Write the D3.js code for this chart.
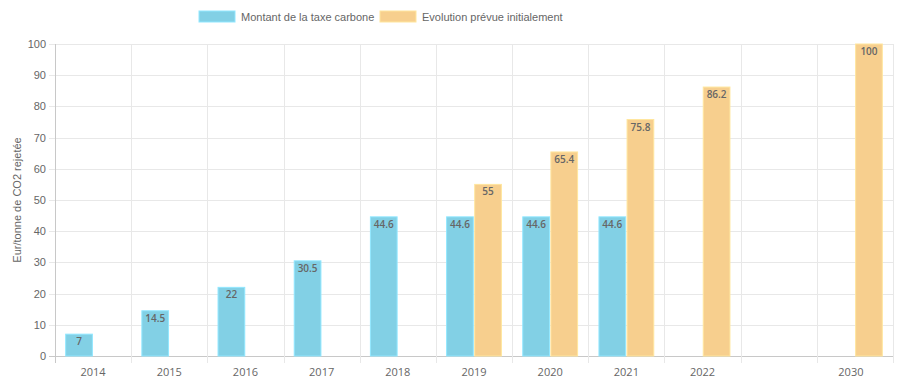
<!DOCTYPE html>
<html>
<head>
<meta charset="utf-8">
<style>
  body { margin: 0; background: #fff; }
  text { font-family: "Liberation Sans", Arial, sans-serif; fill: #666; }
  .xlab { font-family: "Open Sans", sans-serif; font-size: 11px; }
  .val { font-family: "Open Sans", sans-serif; font-size: 10px; font-weight: 600; fill: #666; }
</style>
</head>
<body>
<svg id="chart" width="900" height="386"></svg>
<script src="https://cdnjs.cloudflare.com/ajax/libs/d3/7.8.5/d3.min.js"></script>
<script>
// categories (the empty slot sits between 2022 and 2030)
var years = ["2014", "2015", "2016", "2017", "2018", "2019", "2020", "2021", "2022", "gap", "2030"];
var montant = [7, 14.5, 22, 30.5, 44.6, 44.6, 44.6, 44.6, null, null, null];
var prevue = [null, null, null, null, null, 55, 65.4, 75.8, 86.2, null, 100];
var series = ["Montant de la taxe carbone", "Evolution prévue initialement"];
var colors = ["#82d0e5", "#f7cf8e"];
var yTicks = [0, 10, 20, 30, 40, 50, 60, 70, 80, 90, 100];

var svg = d3.select("#chart");
var mLeft = 55, mRight = 893, mTop = 44, mBottom = 356;

var x = d3.scaleBand().domain(years).range([mLeft, mRight]);
var x1 = d3.scaleBand().domain([0, 1]).range([0, x.bandwidth()]).paddingInner(0.05).paddingOuter(0.38);
var y = d3.scaleLinear().domain([0, 100]).range([mBottom, mTop]);

// horizontal grid
svg.append("g").selectAll("line").data(yTicks).enter().append("line")
  .attr("x1", mLeft - 6).attr("x2", mRight)
  .attr("y1", function(d){ return Math.round(y(d)) + 0.5; })
  .attr("y2", function(d){ return Math.round(y(d)) + 0.5; })
  .attr("stroke", function(d){ return d == 0 ? "#c8c8c8" : "#e8e8e8"; });

// vertical grid at category boundaries
var bounds = years.map(function(d){ return x(d); }).concat([mRight]);
svg.append("g").selectAll("line").data(bounds).enter().append("line")
  .attr("x1", function(d){ return Math.round(d) + 0.5; })
  .attr("x2", function(d){ return Math.round(d) + 0.5; })
  .attr("y1", mTop).attr("y2", mBottom + 7)
  .attr("stroke", function(d, i){ return i == 0 ? "#c8c8c8" : "#e8e8e8"; });

// y labels
svg.append("g").selectAll("text").data(yTicks).enter().append("text")
  .attr("x", mLeft - 9).attr("y", function(d){ return y(d) + 4; })
  .attr("text-anchor", "end").style("font-size", "11px")
  .text(function(d){ return d; });

// y title
svg.append("text")
  .attr("transform", "translate(21," + ((mTop + mBottom) / 2) + ") rotate(-90)")
  .attr("text-anchor", "middle").style("font-size", "11px")
  .text("Eur/tonne de CO2 rejetée");

// x labels
svg.append("g").selectAll("text").data(years).enter().append("text")
  .attr("class", "xlab")
  .attr("x", function(d){ return x(d) + x.bandwidth() / 2 - (d == "2030" ? 4 : 0); })
  .attr("y", 376).attr("text-anchor", "middle")
  .text(function(d){ return d == "gap" ? "" : d; });

// bars
[montant, prevue].forEach(function(vals, s) {
  var g = svg.append("g");
  var rows = years.map(function(yr, i){ return {yr: yr, v: vals[i]}; })
    .filter(function(d){ return d.v != null; });
  g.selectAll("rect").data(rows).enter().append("rect")
    .attr("x", function(d){ return x(d.yr) + x1(s); })
    .attr("width", x1.bandwidth())
    .attr("y", function(d){ return y(d.v); })
    .attr("height", function(d){ return mBottom - y(d.v); })
    .attr("fill", colors[s])
    .attr("stroke", d3.color(colors[s]).brighter(0.3))
    .attr("stroke-width", 1);
  g.selectAll("text").data(rows).enter().append("text")
    .attr("class", "val")
    .attr("x", function(d){ return x(d.yr) + x1(s) + x1.bandwidth() / 2; })
    .attr("y", function(d){ return y(d.v) + 11; })
    .attr("text-anchor", "middle")
    .text(function(d){ return d.v; });
});

// legend
var legX = [199, 380];
series.forEach(function(name, i) {
  svg.append("rect").attr("x", legX[i]).attr("y", 11).attr("width", 36).attr("height", 11)
    .attr("fill", colors[i]).attr("stroke", d3.color(colors[i]).brighter(0.3));
  svg.append("text").attr("x", legX[i] + 42).attr("y", 20.5)
    .style("font-size", "11px").text(name);
});
</script>
</body>
</html>
